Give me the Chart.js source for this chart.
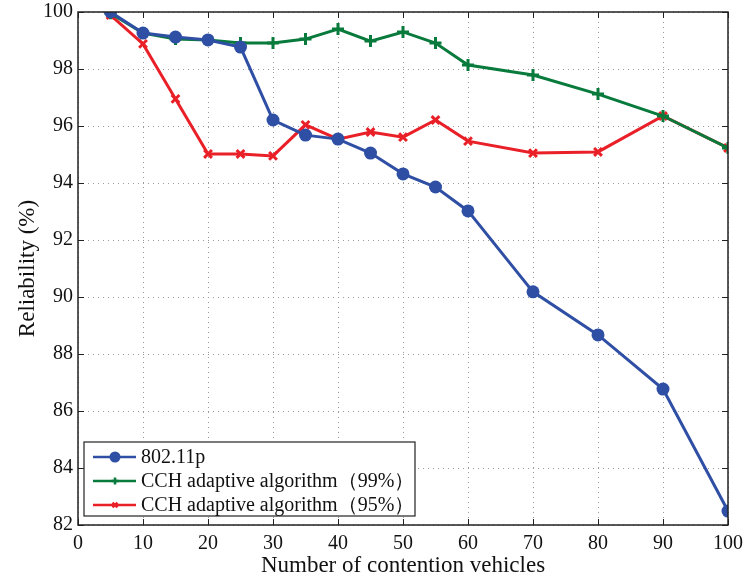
<!DOCTYPE html>
<html>
<head>
<meta charset="utf-8">
<script src="https://cdn.jsdelivr.net/npm/chart.js@4"></script>
<style>
  html, body { margin: 0; padding: 0; background: #fff; }
  #wrap { width: 744px; height: 580px; }
</style>
</head>
<body>
<div id="wrap"><canvas id="reliability"></canvas></div>
<script>
// values
var vehicles = [5, 10, 15, 20, 25, 30, 35, 40, 45, 50, 55, 60, 70, 80, 90, 100];
var p80211 = [100, 99.26, 99.12, 99.02, 98.77, 96.21, 95.68, 95.54, 95.05, 94.32, 93.86, 93.02, 90.18, 88.67, 86.77, 82.49];
var cch99 = [99.96, 99.26, 99.05, 99.02, 98.91, 98.91, 99.05, 99.40, 98.98, 99.30, 98.91, 98.14, 97.79, 97.12, 96.35, 95.23];
var cch95 = [99.89, 98.88, 96.95, 95.02, 95.02, 94.95, 96.04, 95.54, 95.79, 95.61, 96.21, 95.47, 95.05, 95.09, 96.35, 95.23];
var seriesNames = ["802.11p", "CCH adaptive algorithm（99%）", "CCH adaptive algorithm（95%）"];

var FONT = "'Liberation Serif', 'Times New Roman', serif";

function pts(ys) {
  return vehicles.map(function (v, i) { return { x: v, y: ys[i] }; });
}

// box, inward ticks and the legend inside the plot (MATLAB look)
var matlabFrame = {
  id: 'matlabFrame',
  afterDraw: function (chart) {
    var ctx = chart.ctx, a = chart.chartArea;
    var xs = chart.scales.x, ys = chart.scales.y;
    ctx.save();
    ctx.strokeStyle = '#222';
    ctx.lineWidth = 1;
    ctx.beginPath();
    xs.ticks.forEach(function (t) {
      var px = Math.round(xs.getPixelForValue(t.value)) + 0.5;
      ctx.moveTo(px, a.bottom); ctx.lineTo(px, a.bottom - 6);
      ctx.moveTo(px, a.top); ctx.lineTo(px, a.top + 6);
    });
    ys.ticks.forEach(function (t) {
      var py = Math.round(ys.getPixelForValue(t.value)) + 0.5;
      ctx.moveTo(a.left, py); ctx.lineTo(a.left + 6, py);
      ctx.moveTo(a.right, py); ctx.lineTo(a.right - 6, py);
    });
    ctx.stroke();
    ctx.lineWidth = 1.5;
    ctx.strokeRect(a.left, a.top, a.right - a.left, a.bottom - a.top);

    // legend
    var lx = a.left + 6, ly = a.bottom - 83, lw = 331, lh = 74;
    ctx.fillStyle = '#fff';
    ctx.fillRect(lx, ly, lw, lh);
    ctx.lineWidth = 1.2;
    ctx.strokeStyle = '#222';
    ctx.strokeRect(lx, ly, lw, lh);
    ctx.font = '20px ' + FONT;
    ctx.textBaseline = 'middle';
    chart.data.datasets.forEach(function (ds, i) {
      var ry = ly + 15 + i * 24;
      ctx.strokeStyle = ds.borderColor;
      ctx.lineWidth = 2.5;
      ctx.beginPath();
      ctx.moveTo(lx + 9, ry); ctx.lineTo(lx + 52, ry);
      ctx.stroke();
      if (i === 0) {
        ctx.fillStyle = ds.borderColor;
        ctx.beginPath(); ctx.arc(lx + 31, ry, 5.5, 0, Math.PI * 2); ctx.fill();
      } else {
        Chart.helpers.drawPoint(ctx, { pointStyle: ds.pointStyle, radius: 3.5, borderWidth: 2.5 }, lx + 31, ry);
      }
      ctx.fillStyle = '#111';
      ctx.fillText(ds.label, lx + 57, ry + 1);
    });
    ctx.restore();
  }
};

var blue = 'rgb(47, 79, 165)';
var green = 'rgb(8, 122, 60)';
var red = 'rgb(233, 32, 40)';

new Chart(document.getElementById('reliability'), {
  type: 'line',
  data: {
    datasets: [
      {
        label: seriesNames[0], data: pts(p80211),
        borderColor: blue, backgroundColor: blue, pointBackgroundColor: blue,
        borderWidth: 3, pointStyle: 'circle', pointRadius: 6.5, pointBorderWidth: 0
      },
      {
        label: seriesNames[1], data: pts(cch99),
        borderColor: green, backgroundColor: green,
        borderWidth: 3, pointStyle: 'cross', pointRadius: 6, pointBorderWidth: 3
      },
      {
        label: seriesNames[2], data: pts(cch95),
        borderColor: red, backgroundColor: red,
        borderWidth: 3, pointStyle: 'crossRot', pointRadius: 5.5, pointBorderWidth: 3
      }
    ]
  },
  options: {
    responsive: true,
    maintainAspectRatio: false,
    animation: false,
    layout: { padding: { top: 12, right: 16, left: 0, bottom: 0 } },
    plugins: { legend: { display: false }, tooltip: { enabled: false } },
    scales: {
      x: {
        type: 'linear', min: 0, max: 100,
        ticks: { stepSize: 10, color: '#111', font: { family: FONT, size: 20 }, padding: 7, maxRotation: 0 },
        grid: { color: '#9a9a9a', lineWidth: 1, drawTicks: false },
        border: { display: false, dash: [1, 4] },
        title: { display: true, text: 'Number of contention vehicles', color: '#111', font: { family: FONT, size: 23 }, padding: { top: 0, bottom: 0 } },
        afterFit: function (s) { s.height = 55; s.paddingLeft = 0; s.paddingRight = 0; }
      },
      y: {
        min: 82, max: 100,
        ticks: { stepSize: 2, color: '#111', font: { family: FONT, size: 20 }, padding: 5 },
        grid: { color: '#9a9a9a', lineWidth: 1, drawTicks: false },
        border: { display: false, dash: [1, 4] },
        title: { display: true, text: 'Reliability (%)', color: '#111', font: { family: FONT, size: 23 }, padding: { top: 14, bottom: 4 } },
        afterFit: function (s) { s.width = 78; s.paddingTop = 0; s.paddingBottom = 0; }
      }
    }
  },
  plugins: [matlabFrame]
});
</script>
</body>
</html>
